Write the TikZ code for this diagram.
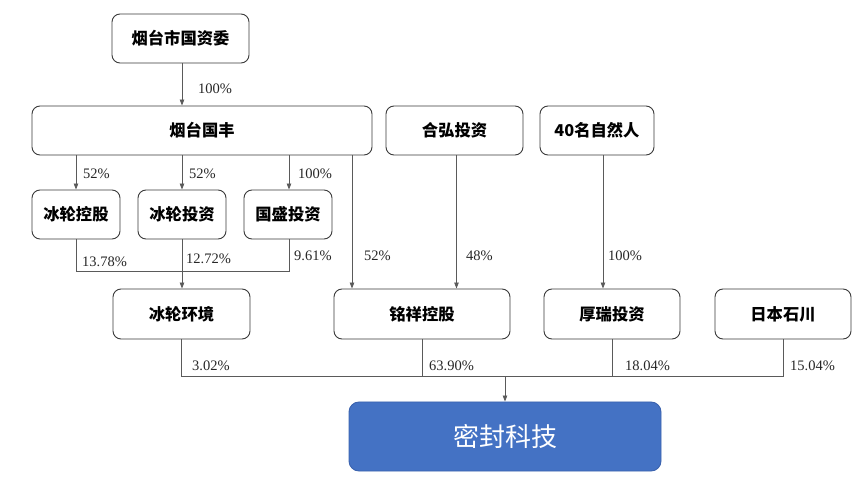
\documentclass[tikz,border=0pt]{standalone}
\usepackage{fontspec}
\setmainfont{Liberation Serif}
\newfontfamily\cjk{Noto Sans CJK SC}
\usetikzlibrary{arrows.meta,calc}
\definecolor{boxline}{HTML}{3A3A3A}
\definecolor{conn}{HTML}{5A5A5A}
\definecolor{mainblue}{HTML}{4472C4}
\definecolor{mainedge}{HTML}{3A62AE}
\tikzset{
  orgbox/.style={draw=boxline, line width=0.9pt, rounded corners=8pt, inner sep=0pt,
    align=center, font=\cjk\bfseries\fontsize{16.3}{19}\selectfont},
  mainbox/.style={draw=mainedge, fill=mainblue, line width=0.9pt, rounded corners=10pt, inner sep=0pt,
    text=white, font=\cjk\fontsize{26}{30}\selectfont, minimum width=312pt, minimum height=69pt},
  wire/.style={draw=conn, line width=0.8pt},
  arr/.style={wire, -{Triangle[length=6pt,width=4.5pt]}},
  pct/.style={anchor=west, inner sep=0pt, font=\fontsize{14.5}{16}\selectfont, text=black!85}
}
\begin{document}
\begin{tikzpicture}[x=1pt,y=-1pt]
\useasboundingbox (0,0) rectangle (868,478);
% boxes
\node[orgbox, minimum width=137pt, minimum height=49pt] (gzw) at (180.5,38.5) {烟台市国资委};
\node[orgbox, minimum width=340pt, minimum height=49pt] (gf) at (202,130.5) {烟台国丰};
\node[orgbox, minimum width=137pt, minimum height=49pt] (hh) at (454.5,130.5) {合弘投资};
\node[orgbox, minimum width=114pt, minimum height=49pt] (p40) at (597,130.5) {40名自然人};
\node[orgbox, minimum width=88pt, minimum height=49pt] (blkg) at (76,214.5) {冰轮控股};
\node[orgbox, minimum width=88pt, minimum height=49pt] (bltz) at (182,214.5) {冰轮投资};
\node[orgbox, minimum width=88pt, minimum height=49pt] (gstz) at (288,214.5) {国盛投资};
\node[orgbox, minimum width=137pt, minimum height=50pt] (blhj) at (181.5,314) {冰轮环境};
\node[orgbox, minimum width=176pt, minimum height=50pt] (mxkg) at (422,314) {铭祥控股};
\node[orgbox, minimum width=136pt, minimum height=50pt] (hrtz) at (612,314) {厚瑞投资};
\node[orgbox, minimum width=136pt, minimum height=50pt] (rbsc) at (783,314) {日本石川};
\node[mainbox] (mfkj) at (505,436.5) {密封科技};
% connectors
\draw[arr] ([xshift=1.5pt]gzw.south) -- ([xshift=1.5pt]gzw.south |- gf.north);
\draw[arr] (blkg.north |- gf.south) -- (blkg.north);
\draw[arr] (bltz.north |- gf.south) -- (bltz.north);
\draw[arr] ([xshift=1pt]gstz.north |- gf.south) -- ([xshift=1pt]gstz.north);
\coordinate (gfr) at ([xshift=150pt]gf.south);
\draw[arr] (gfr) -- (gfr |- mxkg.north);
\draw[wire] (blkg.south) -- ++(0,32) -| ([xshift=1pt]gstz.south);
\draw[arr] (bltz.south) -- (bltz.south |- blhj.north);
\coordinate (hhs) at ([xshift=2pt]hh.south);
\draw[arr] (hhs) -- (hhs |- mxkg.north);
\coordinate (p40s) at ([xshift=6pt]p40.south);
\draw[arr] (p40s) -- (p40s |- hrtz.north);
\coordinate (busL) at ($(blhj.south)+(0,37)$);
\draw[wire] (blhj.south) -- (busL) -| (rbsc.south);
\draw[wire] (mxkg.south) -- (mxkg.south |- busL);
\draw[wire] (hrtz.south) -- (hrtz.south |- busL);
\draw[arr] (mfkj.north |- busL) -- (mfkj.north);
% labels
\node[pct] (l1) at (198,89) {100\%};
\node[pct] (l2) at (83,174) {52\%};
\node[pct] (l3) at (189,174) {52\%};
\node[pct] (l4) at (298,174) {100\%};
\node[pct] (l5) at (82,262) {13.78\%};
\node[pct] (l6) at (186,259) {12.72\%};
\node[pct] (l7) at (294,256) {9.61\%};
\node[pct] (l8) at (364,256) {52\%};
\node[pct] (l9) at (466,256) {48\%};
\node[pct] (l10) at (608,256) {100\%};
\node[pct] (l11) at (192,366) {3.02\%};
\node[pct] (l12) at (429,366) {63.90\%};
\node[pct] (l13) at (625,366) {18.04\%};
\node[pct] (l14) at (790,366) {15.04\%};
\end{tikzpicture}
\end{document}
